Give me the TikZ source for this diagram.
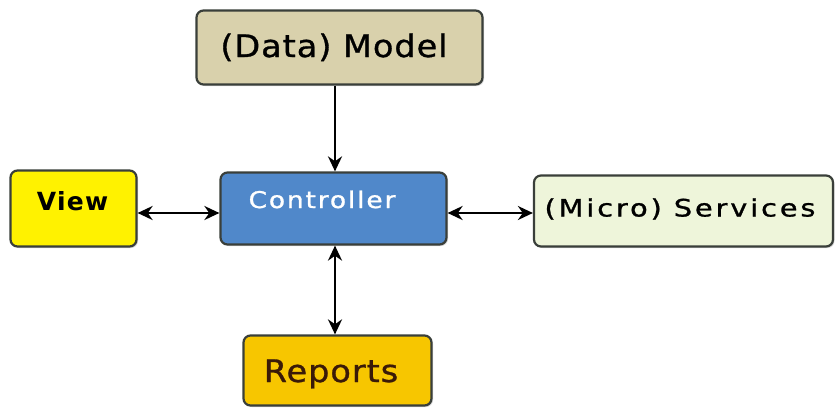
\documentclass[tikz,border=0pt]{standalone}
\usepackage{fontspec}
\usepackage{graphicx}
\setmainfont{DejaVu Sans}
\usetikzlibrary{arrows.meta,shadows}
\definecolor{modelfill}{HTML}{D9D1AC}
\definecolor{ctrlfill}{HTML}{5088CA}
\definecolor{viewfill}{HTML}{FFF200}
\definecolor{servfill}{HTML}{EEF5DA}
\definecolor{repfill}{HTML}{F7C600}
\definecolor{boxline}{HTML}{3A3F3A}
\definecolor{reptext}{HTML}{3A1A08}
\tikzset{
  box/.style={draw=boxline, line width=2.2pt, rounded corners=7pt, inner sep=0pt,
    drop shadow={shadow xshift=1.5pt, shadow yshift=-1.5pt, opacity=0.3}},
  lbl/.style={anchor=base, inner sep=0pt},
  conn/.style={line width=2.4pt, -{Stealth[length=15pt,width=14pt]}},
  bconn/.style={line width=2.4pt, {Stealth[length=15pt,width=14pt]}-{Stealth[length=15pt,width=14pt]}}
}
\begin{document}
\begin{tikzpicture}[x=1pt,y=-1pt]
\useasboundingbox[fill=white] (0,0) rectangle (835,407);
\node[box, fill=modelfill, minimum width=286pt, minimum height=74pt] (model) at (339.5,47.5) {};
\node[lbl, font=\fontsize{31}{34}\selectfont\addfontfeatures{LetterSpace=3,FakeBold=1}, text=black] (modeltext) at (334,57) {\scalebox{1.08}[1]{(Data) Model}};
\node[box, fill=ctrlfill, minimum width=226pt, minimum height=72pt] (ctrl) at (333.5,208.5) {};
\node[lbl, text=white, font=\fontsize{23}{26}\selectfont\addfontfeatures{LetterSpace=7,FakeBold=1}] (ctrltext) at (322,208) {\scalebox{1.15}[1]{Controller}};
\node[box, fill=viewfill, minimum width=126pt, minimum height=76pt] (view) at (73.5,208.5) {};
\node[lbl, font=\bfseries\fontsize{25}{28}\selectfont\addfontfeatures{LetterSpace=5}, text=black] (viewtext) at (72.5,210) {View};
\node[box, fill=servfill, minimum width=299pt, minimum height=71pt] (serv) at (683.5,211) {};
\node[lbl, font=\fontsize{24}{27}\selectfont\addfontfeatures{LetterSpace=10,FakeBold=1}, text=black] (servtext) at (680,216.5) {\scalebox{1.2}[1]{(Micro) Services}};
\node[box, fill=repfill, minimum width=188pt, minimum height=70pt] (rep) at (337.5,370.5) {};
\node[lbl, font=\fontsize{31}{34}\selectfont\addfontfeatures{LetterSpace=3,FakeBold=1}, text=reptext] (reptext) at (331,382) {\scalebox{1.08}[1]{Reports}};
\draw[conn] (model.south -| 335,0) -- (ctrl.north -| 335,0);
\draw[bconn] (view.east |- 0,213) -- (ctrl.west |- 0,213);
\draw[bconn] (ctrl.east |- 0,213) -- (serv.west |- 0,213);
\draw[bconn] (ctrl.south -| 335,0) -- (rep.north -| 335,0);
\end{tikzpicture}
\end{document}
